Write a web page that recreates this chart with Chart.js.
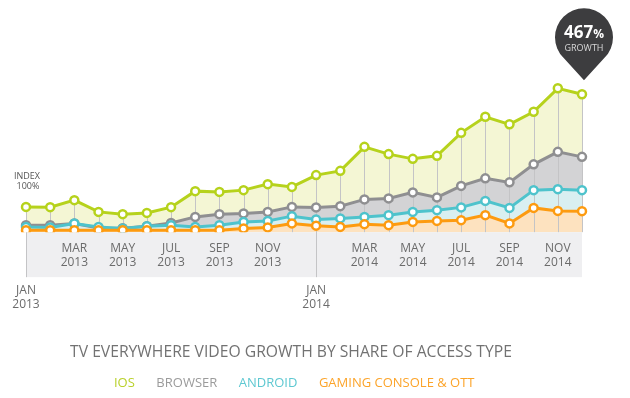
<!DOCTYPE html>
<html>
<head>
<meta charset="utf-8">
<script src="https://cdn.jsdelivr.net/npm/chart.js@4"></script>
<style>
  html, body { margin: 0; padding: 0; background: #fff; }
  #wrap { width: 630px; height: 398px; }
</style>
</head>
<body>
<div id="wrap"><canvas id="canvas" width="630" height="398"></canvas></div>
<script>
// months, Jan 2013 .. Dec 2014
const months = ['JAN','FEB','MAR','APR','MAY','JUN','JUL','AUG','SEP','OCT','NOV','DEC',
  'JAN','FEB','MAR','APR','MAY','JUN','JUL','AUG','SEP','OCT','NOV','DEC'];
const years = ['2013','2013','2013','2013','2013','2013','2013','2013','2013','2013','2013','2013',
  '2014','2014','2014','2014','2014','2014','2014','2014','2014','2014','2014','2014'];

// index levels (Jan 2013 iOS = 100)
const iosData = [101, 100, 128, 81, 72, 77, 100, 164, 161, 168, 192, 181,
  228, 245, 341, 312, 293, 305, 397, 461, 431, 481, 575, 551];
const browserData = [28, 28, 35, 17, 16, 24, 37, 61, 72, 75, 81, 101,
  99, 104, 131, 135, 159, 139, 185, 215, 199, 271, 321, 301];
const androidData = [21, 19, 35, 21, 15, 24, 28, 21, 28, 41, 45, 64,
  51, 55, 61, 68, 81, 88, 99, 125, 97, 168, 172, 168];
const gamingData = [8, 8, 8, 8, 8, 8, 8, 8, 8, 15, 19, 35,
  26, 21, 32, 28, 41, 45, 48, 68, 35, 97, 85, 84];

const seriesNames = ['IOS', 'BROWSER', 'ANDROID', 'GAMING CONSOLE & OTT'];
const growthText = '467';

const lineColors = ['#b6d21c', '#8f8f91', '#4ec3cc', '#fd9b10'];
const fillColors = ['#f4f6d4', '#d3d3d5', '#d9eff1', '#fde2bf'];
const legendColors = ['#b9d12b', '#9b9b9b', '#5ec8d1', '#fca42a'];

function makeSet(i, data, fill, order) {
  return {
    label: seriesNames[i],
    data: data,
    borderColor: lineColors[i],
    backgroundColor: fillColors[i],
    borderWidth: 3,
    pointRadius: 4,
    pointBorderWidth: 2.5,
    pointBackgroundColor: '#ffffff',
    pointBorderColor: lineColors[i],
    tension: 0,
    fill: fill,
    order: order
  };
}

const chartData = {
  labels: months.map((m, i) => m + ' ' + years[i]),
  datasets: [
    makeSet(0, iosData, '+1', 3),
    makeSet(1, browserData, '+1', 2),
    makeSet(2, androidData, '+1', 1),
    makeSet(3, gamingData, 'origin', 0)
  ]
};

// grey band under the plot, drop lines and the growth badge
const decor = {
  id: 'decor',
  beforeDraw(chart) {
    const {ctx, chartArea} = chart;
    ctx.save();
    ctx.fillStyle = '#efeff1';
    ctx.fillRect(chartArea.left, chartArea.bottom, chartArea.right - chartArea.left, 45);
    ctx.restore();
  },
  beforeDatasetsDraw(chart) {
    const {ctx, chartArea} = chart;
    const top = chart.getDatasetMeta(0).data;
    ctx.save();
    ctx.strokeStyle = '#c4c4c6';
    ctx.lineWidth = 1;
    top.forEach((pt, i) => {
      const x = Math.round(pt.x) + 0.5;
      const bottom = months[i] === 'JAN' ? chartArea.bottom + 45 : chartArea.bottom;
      ctx.beginPath();
      ctx.moveTo(x, pt.y);
      ctx.lineTo(x, bottom);
      ctx.stroke();
    });
    ctx.restore();
  },
  afterDatasetsDraw(chart) {
    const {ctx} = chart;
    const pts = chart.getDatasetMeta(0).data;
    const first = pts[0];
    const last = pts[pts.length - 1];

    ctx.save();
    ctx.fillStyle = '#555555';
    ctx.font = '9px "Open Sans", sans-serif';
    ctx.textAlign = 'center';
    ctx.textBaseline = 'middle';
    ctx.fillText('INDEX', first.x + 1, first.y - 30);
    ctx.fillText('100%', first.x + 2, first.y - 20);

    // badge
    const cx = last.x + 2;
    const tipY = last.y - 14;
    const r = 29;
    const cy = tipY - 43;
    ctx.fillStyle = '#3d3d3f';
    ctx.beginPath();
    ctx.arc(cx, cy, r, Math.PI * 0.75, Math.PI * 0.25);
    ctx.lineTo(cx, tipY);
    ctx.closePath();
    ctx.fill();
    ctx.fillStyle = '#ffffff';
    ctx.font = 'bold 17px "Open Sans", sans-serif';
    const numW = ctx.measureText(growthText).width;
    ctx.font = 'bold 12px "Open Sans", sans-serif';
    const pctW = ctx.measureText('%').width;
    const startX = cx - (numW + pctW) / 2;
    ctx.textAlign = 'left';
    ctx.font = 'bold 17px "Open Sans", sans-serif';
    ctx.fillText(growthText, startX, cy - 4);
    ctx.font = 'bold 12px "Open Sans", sans-serif';
    ctx.fillText('%', startX + numW, cy - 3);
    ctx.textAlign = 'center';
    ctx.fillStyle = '#d8d8d8';
    ctx.font = '9px "Open Sans", sans-serif';
    ctx.fillText('GROWTH', cx, cy + 11);
    ctx.restore();
  }
};

window.onload = () => {
  const ctx = document.getElementById('canvas').getContext('2d');
  window.myChart = new Chart(ctx, {
    type: 'line',
    data: chartData,
    plugins: [decor],
    options: {
      responsive: false,
      animation: false,
      layout: {
        padding: {left: 0, right: 48, top: 12, bottom: -2}
      },
      plugins: {
        filler: {drawTime: 'beforeDatasetsDraw'},
        tooltip: {enabled: false},
        title: {
          display: true,
          text: 'TV EVERYWHERE VIDEO GROWTH BY SHARE OF ACCESS TYPE',
          position: 'bottom',
          weight: 500,
          color: '#727272',
          font: {family: '"Open Sans", sans-serif', size: 15.7, weight: 'normal'},
          padding: {top: 22, bottom: 0}
        },
        legend: {
          display: true,
          position: 'bottom',
          onClick: null,
          labels: {
            boxWidth: 0,
            boxHeight: 0,
            padding: 15,
            font: {family: '"Open Sans", sans-serif', size: 13},
            generateLabels: (chart) => seriesNames.map((name, i) => ({
              text: name,
              fontColor: legendColors[i],
              fillStyle: 'rgba(0,0,0,0)',
              strokeStyle: 'rgba(0,0,0,0)',
              lineWidth: 0,
              datasetIndex: i
            }))
          }
        }
      },
      scales: {
        x: {
          grid: {display: false, drawTicks: false},
          border: {display: false},
          afterFit: (scale) => { scale.height = 89; },
          ticks: {
            autoSkip: false,
            maxRotation: 0,
            padding: 9,
            color: '#6b6b6b',
            font: {family: '"Open Sans", sans-serif', size: 12, lineHeight: 1.17},
            callback: function(value, index) {
              if (index % 2 !== 0) return '';
              if (months[index] === 'JAN') return ['', '', '', months[index], years[index]];
              return [months[index], years[index]];
            }
          }
        },
        y: {
          display: true,
          min: 0,
          max: 880,
          afterFit: (scale) => { scale.width = 26; },
          grid: {display: false, drawTicks: false},
          border: {display: false},
          ticks: {display: false}
        }
      }
    }
  });
};
</script>
</body>
</html>
